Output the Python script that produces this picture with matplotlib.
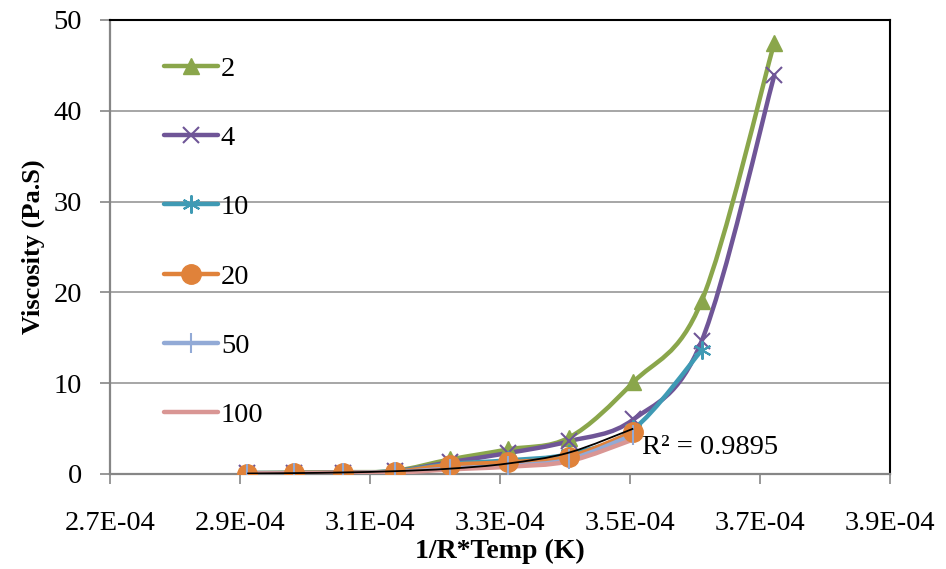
import numpy as np
import matplotlib.pyplot as plt
from matplotlib.path import Path
from matplotlib.patches import PathPatch
from matplotlib.lines import Line2D

plt.rcParams["font.family"] = ["Liberation Serif", "DejaVu Serif"]

# 1/(R*T) values, 50..140 C
inv_rt = [3.722e-4, 3.610e-4, 3.505e-4, 3.406e-4, 3.312e-4,
          3.223e-4, 3.139e-4, 3.059e-4, 2.983e-4, 2.911e-4]

# shorter series lack the highest 1/RT points
visc_2 = [47.5, 19.0, 10.1, 4.0, 2.7, 1.6, 0.35, 0.2, 0.15, 0.1]
visc_4 = [43.9, 14.6, 6.0, 3.6, 2.3, 1.3, 0.3, 0.15, 0.1, 0.1]
visc_10 = [13.6, 4.9, 2.2, 1.5, 1.1, 0.3, 0.15, 0.1, 0.1]
visc_20 = [4.6, 1.9, 1.3, 1.0, 0.25, 0.15, 0.1, 0.05]
visc_50 = [4.3, 1.6, 0.9, 0.6, 0.2, 0.12, 0.08, 0.05]
visc_100 = [3.8, 1.4, 0.8, 0.5, 0.15, 0.1, 0.07, 0.05]

series_labels = ["2", "4", "10", "20", "50", "100"]
x_ticks = [2.7e-4, 2.9e-4, 3.1e-4, 3.3e-4, 3.5e-4, 3.7e-4, 3.9e-4]
x_ticklabels = ["2.7E-04", "2.9E-04", "3.1E-04", "3.3E-04", "3.5E-04", "3.7E-04", "3.9E-04"]
r2_text = "R\u00b2 = 0.9895"


def smooth_path(xs, ys):
    # Excel-style smoothed line: cubic bezier with 1/6 tension
    pts = np.column_stack([xs, ys])
    n = len(pts)
    verts = [pts[0]]
    codes = [Path.MOVETO]
    for i in range(n - 1):
        p0 = pts[max(i - 1, 0)]
        p1 = pts[i]
        p2 = pts[i + 1]
        p3 = pts[min(i + 2, n - 1)]
        c1 = p1 + (p2 - p0) / 6.0
        c2 = p2 - (p3 - p1) / 6.0
        verts += [c1, c2, p2]
        codes += [Path.CURVE4] * 3
    return Path(verts, codes)


fig = plt.figure(figsize=(9.46, 5.69), dpi=100)
ax = fig.add_axes([0.1163, 0.167, 0.8245, 0.798])

styles = [
    (visc_2, "#8AA64B", "^", 12, 0),
    (visc_4, "#6F5597", "x", 12, 1.5),
    (visc_10, "#3F9AB4", (6, 2, 0), 13, 1.5),
    (visc_20, "#E0823A", "o", 14, 0),
    (visc_50, "#92AAD6", "|", 14, 1.5),
    (visc_100, "#D99694", None, 0, 0),
]

handles = []
for (vals, col, mk, ms, mew), lab in zip(styles, series_labels):
    xs = inv_rt[len(inv_rt) - len(vals):]
    ax.add_patch(PathPatch(smooth_path(xs, vals), facecolor="none",
                           edgecolor=col, lw=3.2, capstyle="round", zorder=3))
    if mk is not None:
        ax.plot(xs, vals, ls="none", marker=mk, ms=ms, color=col,
                mec=col, mew=mew if mew else 1, zorder=4)
    handles.append(Line2D([], [], color=col, lw=3.2, marker=mk, ms=ms,
                          mec=col, mew=mew if mew else 1,
                          solid_capstyle="round", label=lab))

# exponential trendline on the 20 series
xt = np.array(inv_rt[len(inv_rt) - len(visc_20):])
b, a = np.polyfit(xt, np.log(visc_20), 1)
yt = np.exp(a + b * xt)
ax.add_patch(PathPatch(smooth_path(xt, yt), facecolor="none",
                       edgecolor="black", lw=1.3, zorder=5))
ax.text(3.518e-4, 2.9, r2_text, fontsize=20.5, ha="left", va="center", zorder=6)

ax.set_xlim(2.7e-4, 3.9e-4)
ax.set_ylim(0, 50)
ax.set_xticks(x_ticks)
ax.set_xticklabels(x_ticklabels)
ax.set_yticks([0, 10, 20, 30, 40, 50])
ax.tick_params(axis="both", labelsize=20.5, direction="out", length=7,
               width=1.2, color="#868686")
ax.tick_params(axis="x", pad=20)
ax.tick_params(axis="y", pad=13)
ax.grid(axis="y", color="#a6a6a6", lw=1.4)
ax.set_axisbelow(True)
for s in ["left", "bottom"]:
    ax.spines[s].set_color("#868686")
    ax.spines[s].set_linewidth(1.6)
for s in ["top", "right"]:
    ax.spines[s].set_color("black")
    ax.spines[s].set_linewidth(1.5)

ax.set_xlabel("1/R*Temp (K)", fontsize=20, fontweight="bold", labelpad=2)
ax.set_ylabel("Viscosity (Pa.S)", fontsize=19, fontweight="bold", labelpad=6)

ax.legend(handles=handles, loc="upper left", bbox_to_anchor=(0.051, 0.952),
          frameon=False, fontsize=20.5, handlelength=1.9, handletextpad=0.1,
          labelspacing=1.52, borderpad=0)

fig.savefig("out.png", dpi=100)
